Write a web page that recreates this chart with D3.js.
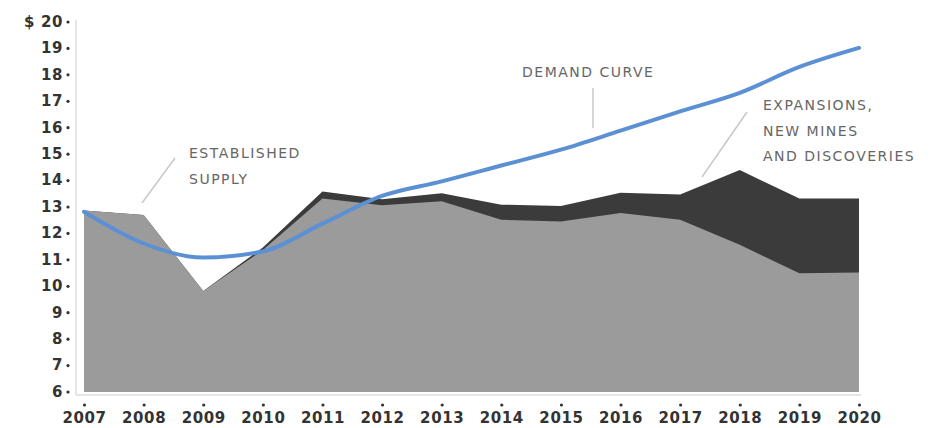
<!DOCTYPE html>
<html>
<head>
<meta charset="utf-8">
<script src="https://cdn.jsdelivr.net/npm/d3@7"></script>
<style>
  body { margin: 0; background: #fff; }
  .tick text { font-family: "DejaVu Sans", sans-serif; font-weight: bold; font-size: 15px; fill: #333; letter-spacing: 0.6px; }
  .note { font-family: "DejaVu Sans", sans-serif; font-size: 14px; fill: #666; letter-spacing: 1.5px; }
</style>
</head>
<body>
<div id="chart"></div>
<script>
// values
var years = [2007, 2008, 2009, 2010, 2011, 2012, 2013, 2014, 2015, 2016, 2017, 2018, 2019, 2020];
var established = [12.85, 12.68, 9.8, 11.35, 13.3, 13.05, 13.2, 12.5, 12.43, 12.75, 12.5, 11.55, 10.47, 10.5];
var totalSupply = [12.85, 12.68, 9.8, 11.45, 13.57, 13.27, 13.5, 13.07, 13.02, 13.52, 13.45, 14.38, 13.3, 13.3];
var demand = [12.8, 11.6, 11.07, 11.3, 12.35, 13.4, 13.95, 14.55, 15.15, 15.87, 16.6, 17.3, 18.28, 19.0];
var yTicks = [6, 7, 8, 9, 10, 11, 12, 13, 14, 15, 16, 17, 18, 19, 20];

var W = 938, H = 428;
var svg = d3.select("#chart").append("svg").attr("width", W).attr("height", H);

var x = d3.scaleLinear().domain([2007, 2020]).range([84, 859]);
var y = d3.scaleLinear().domain([6, 20]).range([391.5, 21.5]);

var rows = years.map(function (yr, i) {
    return {year: yr, est: established[i], total: totalSupply[i], demand: demand[i]};
});

// dark area: expansions, new mines and discoveries
var darkArea = d3.area().x(function (d) { return x(d.year); })
    .y0(function (d) { return y(6); }).y1(function (d) { return y(d.total); });
svg.append("path").datum(rows).attr("d", darkArea).attr("fill", "#3b3b3b");

// light area: established supply
var lightArea = d3.area().x(function (d) { return x(d.year); })
    .y0(function (d) { return y(6); }).y1(function (d) { return y(d.est); });
svg.append("path").datum(rows).attr("d", lightArea).attr("fill", "#9b9b9b");

// axis lines
svg.append("line").attr("x1", 76).attr("x2", 76).attr("y1", 20).attr("y2", 395)
    .attr("stroke", "#dcdcdc").attr("stroke-width", 1.5);
svg.append("line").attr("x1", 76).attr("x2", 861).attr("y1", 395).attr("y2", 395)
    .attr("stroke", "#dcdcdc").attr("stroke-width", 1.5);

// demand curve
var line = d3.line().x(function (d) { return x(d.year); }).y(function (d) { return y(d.demand); })
    .curve(d3.curveMonotoneX);
svg.append("path").datum(rows).attr("d", line).attr("fill", "none")
    .attr("stroke", "#5b90d4").attr("stroke-width", 4).attr("stroke-linecap", "round");

// y axis
var yAxis = d3.axisLeft(y).tickValues(yTicks).tickSize(0).tickPadding(13)
    .tickFormat(function (d) { return d === 20 ? "$ 20" : d; });
var gy = svg.append("g").attr("transform", "translate(76,0)").call(yAxis);
gy.select(".domain").remove();
gy.selectAll(".tick").append("circle").attr("cx", -8).attr("r", 1.6).attr("fill", "#333");

// x axis
var xAxis = d3.axisBottom(x).tickValues(years).tickSize(0).tickPadding(17).tickFormat(d3.format("d"));
var gx = svg.append("g").attr("transform", "translate(0,395)").call(xAxis);
gx.select(".domain").remove();
gx.selectAll(".tick").append("circle").attr("cy", 10).attr("r", 1.6).attr("fill", "#333");

// annotations
function note(lines, tx, ty, lead) {
    svg.append("line").attr("x1", lead[0]).attr("y1", lead[1]).attr("x2", lead[2]).attr("y2", lead[3])
        .attr("stroke", "#c8c8c8").attr("stroke-width", 1.5);
    var t = svg.append("text").attr("class", "note").attr("x", tx).attr("y", ty);
    lines.forEach(function (s, i) {
        t.append("tspan").attr("x", tx).attr("dy", i === 0 ? 0 : 25.5).text(s);
    });
}
note(["ESTABLISHED", "SUPPLY"], 189, 158, [142, 203, 175, 158]);
note(["DEMAND CURVE"], 522, 77, [593, 88, 593, 128]);
note(["EXPANSIONS,", "NEW MINES", "AND DISCOVERIES"], 763, 110, [702, 177, 747, 112]);
</script>
</body>
</html>
